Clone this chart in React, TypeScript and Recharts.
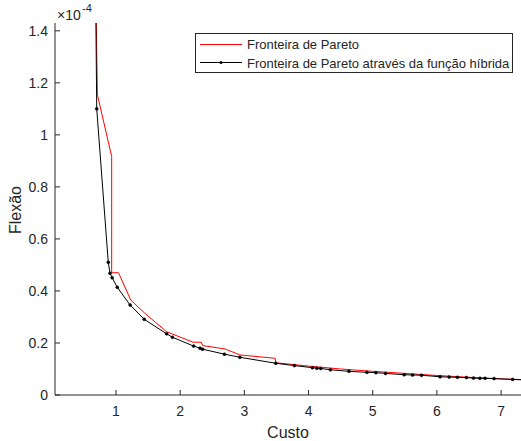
import { LineChart, Line, XAxis, YAxis } from 'recharts';

// Custo values (x) and Flexão values (y, in units of 1e-4)
const paretoCusto = [0.69, 0.71, 0.933, 0.933, 1.04, 1.23, 1.45, 1.79, 2.2, 2.33, 2.35, 2.7, 2.93, 3.48, 3.49, 4.0, 4.5, 5.0, 5.5, 6.0, 6.5, 7.0, 7.35];
const paretoFlexao = [1.5, 1.155, 0.917, 0.47, 0.47, 0.365, 0.314, 0.243, 0.203, 0.203, 0.19, 0.177, 0.154, 0.141, 0.124, 0.111, 0.1, 0.091, 0.083, 0.075, 0.068, 0.062, 0.059];

const hibridaCusto = [0.685, 0.7, 0.88, 0.907, 0.94, 1.02, 1.22, 1.44, 1.79, 1.88, 2.21, 2.31, 2.35, 2.69, 2.93, 3.49, 3.78, 4.06, 4.13, 4.19, 4.34, 4.63, 4.91, 5.05, 5.2, 5.49, 5.62, 5.76, 6.05, 6.19, 6.32, 6.46, 6.57, 6.67, 6.75, 6.89, 7.18, 7.35];
const hibridaFlexao = [1.5, 1.1, 0.51, 0.468, 0.451, 0.414, 0.346, 0.291, 0.235, 0.222, 0.188, 0.18, 0.176, 0.157, 0.145, 0.122, 0.113, 0.105, 0.103, 0.102, 0.097, 0.091, 0.087, 0.086, 0.083, 0.078, 0.077, 0.076, 0.07, 0.069, 0.068, 0.067, 0.065, 0.064, 0.064, 0.063, 0.06, 0.058];

const xTicks = [1, 2, 3, 4, 5, 6, 7];
const yTicks = [0, 0.2, 0.4, 0.6, 0.8, 1, 1.2, 1.4];

const seriesNames = ['Fronteira de Pareto', 'Fronteira de Pareto através da função híbrida'];

const FONT = '"Liberation Sans", Arial, Helvetica, sans-serif';
const AXIS = '#262626';

const paretoData = paretoCusto.map((x, i) => ({ x, y: paretoFlexao[i] }));
const hibridaData = hibridaCusto.map((x, i) => ({ x, y: hibridaFlexao[i] }));

function XTick(props: any) {
  const { x, y, payload } = props;
  return (
    <g>
      <line x1={x} x2={x} y1={y} y2={y - 5} stroke={AXIS} strokeWidth={1} />
      <text x={x} y={y + 21} textAnchor="middle" fill={AXIS} fontSize={14} fontFamily={FONT}>
        {payload.value}
      </text>
    </g>
  );
}

function YTick(props: any) {
  const { x, y, payload } = props;
  return (
    <g>
      <line x1={x} x2={x + 5} y1={y} y2={y} stroke={AXIS} strokeWidth={1} />
      <text x={x - 7} y={y + 5} textAnchor="end" fill={AXIS} fontSize={14} fontFamily={FONT}>
        {payload.value}
      </text>
    </g>
  );
}

export default function App() {
  return (
    <div style={{ position: 'absolute', left: 0, top: 0, width: 521, height: 441, background: '#fff' }}>
      <LineChart width={521} height={441} margin={{ top: 23, right: 0, bottom: 0, left: 0 }}>
        <XAxis
          type="number"
          dataKey="x"
          domain={[0.05, 7.31]}
          allowDataOverflow
          ticks={xTicks}
          interval={0}
          height={46}
          tickSize={0}
          tickMargin={0}
          tickLine={false}
          axisLine={{ stroke: AXIS }}
          tick={XTick}
        />
        <YAxis
          type="number"
          dataKey="y"
          domain={[0, 1.43]}
          allowDataOverflow
          ticks={yTicks}
          interval={0}
          width={55}
          tickSize={0}
          tickMargin={0}
          tickLine={false}
          axisLine={{ stroke: AXIS }}
          tick={YTick}
        />
        <Line
          data={paretoData}
          dataKey="y"
          type="linear"
          stroke="#ff0000"
          strokeWidth={1}
          dot={false}
          activeDot={false}
          isAnimationActive={false}
        />
        <Line
          data={hibridaData}
          dataKey="y"
          type="linear"
          stroke="#000"
          strokeWidth={1}
          dot={{ r: 1.5, fill: '#000', stroke: '#000', strokeWidth: 0.5 }}
          activeDot={false}
          isAnimationActive={false}
        />
      </LineChart>
      <svg width={521} height={441} style={{ position: 'absolute', left: 0, top: 0, pointerEvents: 'none' }}>
        {/* legend */}
        <rect x={195.5} y={33.5} width={317} height={39} fill="#fff" stroke={AXIS} strokeWidth={1} />
        <line x1={200} x2={242} y1={44.5} y2={44.5} stroke="#ff0000" strokeWidth={1} />
        <line x1={200} x2={242} y1={62.5} y2={62.5} stroke="#000" strokeWidth={1} />
        <circle cx={221} cy={62.5} r={1.5} fill="#000" />
        <text x={247} y={49} fontSize={13} fontFamily={FONT} fill={AXIS}>{seriesNames[0]}</text>
        <text x={247} y={67.5} fontSize={13} fontFamily={FONT} fill={AXIS}>{seriesNames[1]}</text>
        {/* exponent */}
        <text x={57} y={20} fontSize={14} fontFamily={FONT} fill={AXIS}>
          ×10
        </text>
        <text x={82} y={12} fontSize={11} fontFamily={FONT} fill={AXIS}>
          -4
        </text>
        <text
          x={0}
          y={0}
          transform="translate(21 210) rotate(-90)"
          textAnchor="middle"
          fontSize={16}
          fontFamily={FONT}
          fill={AXIS}
        >
          Flexão
        </text>
        <text x={288} y={438} textAnchor="middle" fontSize={16} fontFamily={FONT} fill={AXIS}>
          Custo
        </text>
      </svg>
    </div>
  );
}
